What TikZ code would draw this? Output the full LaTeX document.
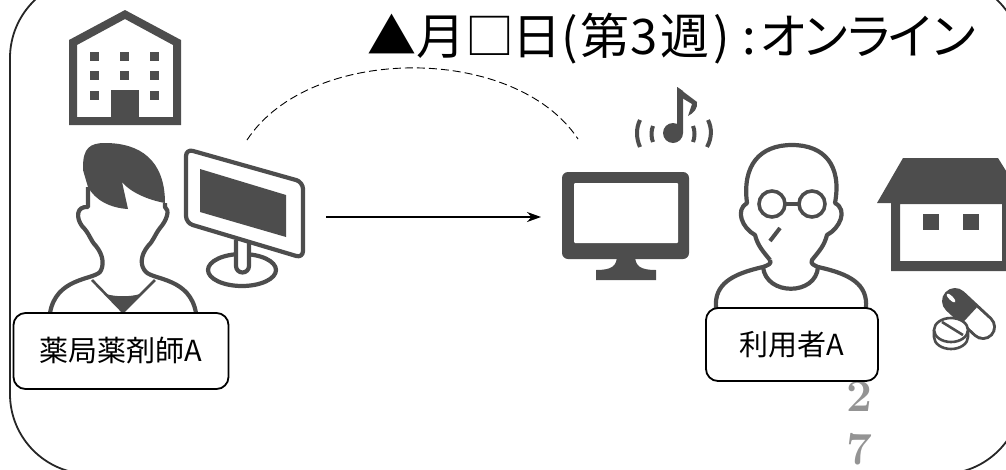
\documentclass[tikz,border=0pt]{standalone}
\usepackage{fontspec}
\usepackage{tikz}
\usetikzlibrary{arrows.meta,positioning}
\newfontfamily\cjk{Noto Sans CJK JP}
\definecolor{icongray}{HTML}{4D4D4D}
\tikzset{
  frameline/.style={draw=black!85,line width=1.8pt,rounded corners=80pt},
  iconline/.style={draw=icongray,line width=4.2pt,line join=round},
  iconfill/.style={fill=icongray,draw=none},
  namebox/.style={draw=black,fill=white,line width=1.8pt,rounded corners=12pt,inner sep=0pt,font=\cjk\fontsize{29}{30}\selectfont},
  pagenum/.style={text=black!42,font=\bfseries\fontsize{46}{46}\selectfont,inner sep=0pt}
}
\begin{document}
\begin{tikzpicture}[x=1pt,y=-1pt]
\useasboundingbox (0,0) rectangle (1006,469);
\draw[frameline] (10,-22) rectangle (1022,474);
\node[anchor=base west,inner sep=0pt,font=\cjk\fontsize{49}{49}\selectfont] (title) at (367,54) {▲月□\kern-2pt 日(\kern3pt 第\kern1pt 3\kern3pt 週\kern4pt )\kern12pt :\kern3pt オ\kern-6.5pt ン\kern-6.5pt ラ\kern-6.5pt イ\kern-6.5pt ン};
%building
\fill[icongray,even odd rule] (69,40) -- (125,10) -- (181,40) -- (181,125) -- (69,125) -- cycle
  (77,45) -- (125,19) -- (173,45) -- (173,117) -- (77,117) -- cycle;
\foreach \xa in {90,120,150}
  \foreach \ya in {52,71}
    \fill[icongray] (\xa,\ya) rectangle ++(9,9);
\fill[icongray] (90,91) rectangle ++(9,9);
\fill[icongray] (150,91) rectangle ++(9,9);
\fill[icongray] (111,90) rectangle (139,117);
%pharmacist
\draw[iconline] (88,187) -- (88,207) .. controls (76,206) and (76,218) .. (82,226) .. controls (90,234) and (90,240) .. (96,246) .. controls (104,256) and (104,266) .. (100,272) .. controls (92,280) and (56,278) .. (50,313);
\draw[iconline] (165,203) -- (165,207) .. controls (170,210) and (167,220) .. (160,228) .. controls (154,236) and (154,240) .. (148,246) .. controls (140,256) and (140,266) .. (146,272) .. controls (154,280) and (190,278) .. (196,313);
\draw[icongray,line width=2.6pt] (92,280) -- (123,312) -- (155,280);
\fill[icongray] (106,294) .. controls (116,297) and (130,297) .. (140,294) -- (123,312) -- cycle;
\fill[icongray] (83,167) .. controls (83,148) and (90,143) .. (105,143) .. controls (140,143) and (165,160) .. (165,203) .. controls (148,200) and (130,192) .. (122,182) -- (128,209) .. controls (110,208) and (95,200) .. (88,187) -- (83,170) -- cycle;
%monitor
\draw[iconline,fill=white] (242,270) ellipse [x radius=34,y radius=16];
\draw[iconline,fill=white] (236,240) -- (236,266) arc [start angle=180,end angle=360,x radius=6.5,y radius=-6.5] -- (249,240);
\draw[iconline,fill=white,rounded corners=7pt] (186,149) -- (303,182) -- (303,258) -- (186,223) -- cycle;
\fill[icongray] (200,169) -- (286,195) -- (286,237) -- (200,212) -- cycle;
%tv
\fill[icongray,rounded corners=6pt] (562,172) rectangle (689,259);
\fill[white,rounded corners=1pt] (574,183) rectangle (678,243);
\fill[icongray] (617,255) .. controls (617,266) and (612,270) .. (596,270) -- (596,280) -- (656,280) -- (656,270) .. controls (640,270) and (635,266) .. (635,255) -- cycle;
%note
\fill[icongray] (673,133) circle [radius=10];
\fill[icongray] (677,87) -- (683,91) -- (683,133) -- (677,133) -- cycle;
\fill[icongray] (677,87) -- (697,102) .. controls (698,108) and (694,113) .. (688,116) -- (692,104) -- (677,95) -- cycle;
\draw[icongray,line width=4pt] (640,120) .. controls (636,128) and (636,138) .. (640,147);
\draw[icongray,line width=4pt] (653,126) .. controls (651,130) and (651,138) .. (653,142);
\draw[icongray,line width=4pt] (708,120) .. controls (712,128) and (712,138) .. (707,147);
\draw[icongray,line width=4pt] (693,126) .. controls (695,130) and (695,138) .. (693,142);
%user
\draw[iconline] (770,260) .. controls (762,250) and (758,246) .. (755,235) .. controls (742,228) and (735,210) .. (747,203) .. controls (742,165) and (760,145) .. (792,145) .. controls (824,145) and (842,165) .. (835,203) .. controls (848,210) and (840,228) .. (827,235) .. controls (824,246) and (820,250) .. (812,260) .. controls (810,264) and (814,265) .. (818,267) .. controls (850,274) and (868,284) .. (866,308);
\draw[iconline] (770,260) .. controls (772,264) and (768,265) .. (763,267) .. controls (732,274) and (714,284) .. (716,308);
\draw[iconline] (763,267) .. controls (766,296) and (816,296) .. (818,267);
\draw[icongray,line width=3.6pt] (772,204) circle [radius=13];
\draw[icongray,line width=3.6pt] (812,204) circle [radius=13];
\draw[icongray,line width=3.6pt] (785,204) -- (799,204);
\draw[icongray,line width=4pt] (780,228) -- (770,241);
%house
\fill[icongray] (877,203) -- (903,158) -- (998,158) -- (1026,203) -- cycle;
\fill[icongray,even odd rule] (891,200) rectangle (1010,271) (900,204) rectangle (1002,261);
\fill[icongray] (923,214) rectangle (939,230);
\fill[icongray] (963,214) rectangle (979,230);
%pills
\draw[icongray,line width=26pt,line cap=round] (955,301) -- (983,327);
\draw[white,line width=20pt] (970,315) -- (983,327);
\fill[white] (983,327) circle [radius=10];
\fill[white,rotate around={45:(951,298)}] (951,298) ellipse [x radius=2,y radius=6];
\draw[icongray,line width=2.6pt,fill=white] (934,330) -- (934,337) arc [start angle=180,end angle=360,x radius=17,y radius=-12] -- (968,330);
\draw[icongray,line width=2.6pt,fill=white] (951,330) ellipse [x radius=17,y radius=12];
\draw[icongray,line width=2.6pt] (942,322) -- (963,335);
%page number
\node[pagenum] (pagetwo) at (859,396) {2};
\node[pagenum] (pageseven) at (859,449) {7};
%labels
\node[namebox,minimum width=215pt,minimum height=76pt] (pharmacist) at (121,351) {薬局薬剤師A};
\node[namebox,minimum width=172pt,minimum height=73pt] (user) at (792,344.5) {利用者A};
%connectors
\coordinate (arrowstart) at (326,217);
\coordinate (arrowend) at (541,217);
\coordinate (arcstart) at (247,140);
\coordinate (arcend) at (578,139);
\draw[black,line width=1.8pt,-{Stealth[length=14pt,width=10pt]}] (arrowstart) -- (arrowend);
\draw[black,line width=0.9pt,dash pattern=on 8pt off 4pt] (arcstart) .. controls (310,44) and (515,44) .. (arcend);
\end{tikzpicture}
\end{document}
